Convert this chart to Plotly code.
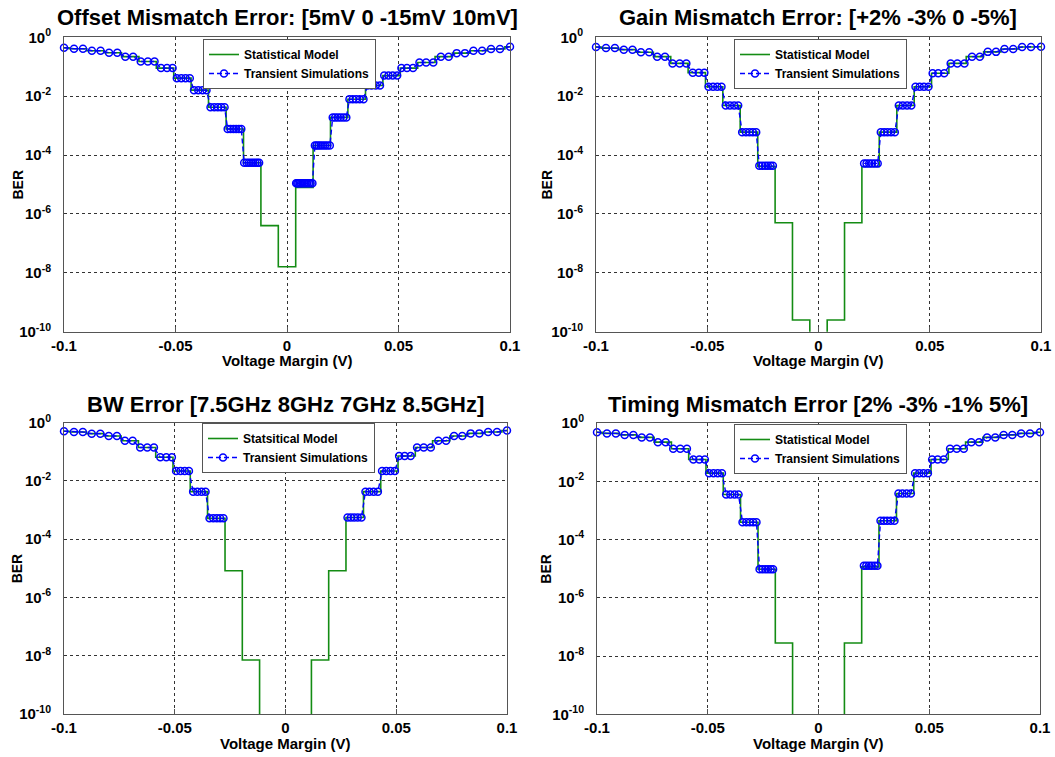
import plotly.graph_objects as go

# ---------------- data ----------------
# step boundaries of the statistical model (V)
bin_edges_v = [-0.1, -0.0977, -0.0898, -0.082, -0.0742, -0.0664, -0.0586, -0.0508,
               -0.043, -0.0352, -0.0273, -0.0195, -0.0117, -0.0039, 0.0039, 0.0117,
               0.0195, 0.0273, 0.0352, 0.043, 0.0508, 0.0586, 0.0664, 0.0742, 0.082,
               0.0898, 0.0977, 0.1]

sim_v_pos = [0.1, 0.0955, 0.0915, 0.0875, 0.0836, 0.0798, 0.0761, 0.0725, 0.069,
             0.0656, 0.0624, 0.0594, 0.0565, 0.0538, 0.0513, 0.0494, 0.0474, 0.0455,
             0.0436, 0.0417, 0.0398, 0.0379, 0.0361, 0.0343, 0.0326, 0.031, 0.0295,
             0.028, 0.0266, 0.0253, 0.024, 0.0228, 0.0216, 0.0205, 0.0192, 0.0181,
             0.0171, 0.0161, 0.0151, 0.0142, 0.0133, 0.0125, 0.0114, 0.0106, 0.0098,
             0.009, 0.0083, 0.0076, 0.0069, 0.0063, 0.0057, 0.0051, 0.0046, 0.0041]

titles = ["Offset Mismatch Error: [5mV 0 -15mV 10mV]",
          "Gain Mismatch Error: [+2% -3% 0 -5%]",
          "BW Error [7.5GHz 8GHz 7GHz 8.5GHz]",
          "Timing Mismatch Error [2% -3% -1% 5%]"]
model_names = ["Statistical Model", "Statistical Model", "Statsitical Model", "Statistical Model"]
sim_name = "Transient Simulations"

# BER of each step (27 steps, from -0.1 V to +0.1 V); 1e-14 = below plotted range
offset_model_ber = [4.4e-1, 4.1e-1, 3.5e-1, 3.0e-1, 2.2e-1, 1.5e-1, 9.0e-2, 4.1e-2, 1.6e-2,
                    4.2e-3, 7.7e-4, 5.5e-5, 4.0e-7, 1.6e-8, 8.0e-6, 2.1e-4, 1.9e-3, 7.9e-3,
                    2.3e-2, 5.0e-2, 9.0e-2, 1.4e-1, 2.2e-1, 2.9e-1, 3.5e-1, 4.0e-1, 4.8e-1]
offset_sim_ber = [4.4e-1, 4.1e-1, 3.5e-1, 3.0e-1, 2.2e-1, 1.5e-1, 9.0e-2, 4.1e-2, 1.6e-2,
                  4.2e-3, 7.7e-4, 5.5e-5, None, None, 1.1e-5, 2.1e-4, 1.9e-3, 7.9e-3,
                  2.3e-2, 5.0e-2, 9.0e-2, 1.4e-1, 2.2e-1, 2.9e-1, 3.5e-1, 4.0e-1, 4.8e-1]

gain_model_ber = [4.7e-1, 4.3e-1, 3.8e-1, 3.1e-1, 2.2e-1, 1.3e-1, 6.3e-2, 2.1e-2, 4.8e-3,
                  6.0e-4, 4.1e-5, 5.0e-7, 2.5e-10, 1e-14, 2.5e-10, 5.0e-7, 4.1e-5, 6.0e-4,
                  4.8e-3, 2.1e-2, 6.0e-2, 1.3e-1, 2.2e-1, 3.2e-1, 4.0e-1, 4.7e-1, 4.8e-1]
gain_sim_ber = [4.7e-1, 4.3e-1, 3.8e-1, 3.1e-1, 2.2e-1, 1.3e-1, 6.3e-2, 2.1e-2, 4.8e-3,
                6.0e-4, 4.3e-5, None, None, None, None, None, 5.2e-5, 6.0e-4,
                4.8e-3, 2.1e-2, 6.0e-2, 1.3e-1, 2.2e-1, 3.2e-1, 4.0e-1, 4.7e-1, 4.8e-1]

bw_model_ber = [5.1e-1, 4.8e-1, 4.2e-1, 3.5e-1, 2.4e-1, 1.4e-1, 6.5e-2, 2.2e-2, 4.3e-3,
                5.2e-4, 8.3e-6, 7.1e-9, 1e-14, 1e-14, 1e-14, 7.1e-9, 8.3e-6, 5.6e-4,
                4.3e-3, 2.2e-2, 7.2e-2, 1.4e-1, 2.4e-1, 3.5e-1, 4.3e-1, 4.8e-1, 5.4e-1]
bw_sim_ber = [5.1e-1, 4.8e-1, 4.2e-1, 3.5e-1, 2.4e-1, 1.4e-1, 6.5e-2, 2.2e-2, 4.3e-3,
              5.2e-4, None, None, None, None, None, None, None, 5.6e-4,
              4.3e-3, 2.2e-2, 7.2e-2, 1.4e-1, 2.4e-1, 3.5e-1, 4.3e-1, 4.8e-1, 5.4e-1]

timing_model_ber = [4.8e-1, 4.4e-1, 3.9e-1, 3.2e-1, 2.2e-1, 1.3e-1, 5.6e-2, 1.9e-2, 3.5e-3,
                    3.9e-4, 9.5e-6, 2.8e-8, 1e-14, 1e-14, 1e-14, 2.8e-8, 1.15e-5, 4.4e-4,
                    3.8e-3, 1.9e-2, 5.6e-2, 1.3e-1, 2.2e-1, 3.2e-1, 3.9e-1, 4.4e-1, 4.8e-1]
timing_sim_ber = [4.8e-1, 4.4e-1, 3.9e-1, 3.2e-1, 2.2e-1, 1.3e-1, 5.6e-2, 1.9e-2, 3.5e-3,
                  3.9e-4, 9.5e-6, None, None, None, None, None, 1.25e-5, 4.4e-4,
                  3.8e-3, 1.9e-2, 5.6e-2, 1.3e-1, 2.2e-1, 3.2e-1, 3.9e-1, 4.4e-1, 4.8e-1]

x_tickvals = [-0.1, -0.05, 0, 0.05, 0.1]
x_ticktext = ["-0.1", "-0.05", "0", "0.05", "0.1"]
y_tickvals = [1, 1e-2, 1e-4, 1e-6, 1e-8, 1e-10]
y_ticktext = ["10<sup>0</sup>", "10<sup>-2</sup>", "10<sup>-4</sup>", "10<sup>-6</sup>",
              "10<sup>-8</sup>", "10<sup>-10</sup>"]

# ---------------- layout geometry (pixels) ----------------
W, H = 1055, 757
FONT = "Liberation Sans, Arial, Helvetica, sans-serif"
panels = [
    dict(x0=64, x1=510, yt=37.3, yb=331.7, lx=203, ly=39, tx=287, ty=17, bx=17),
    dict(x0=596, x1=1041, yt=37.3, yb=331.7, lx=734, ly=39, tx=818, ty=17, bx=546),
    dict(x0=64, x1=507, yt=422.7, yb=714, lx=202, ly=423, tx=285, ty=405, bx=17),
    dict(x0=597, x1=1040, yt=423, yb=714.3, lx=734, ly=424, tx=818, ty=405, bx=546),
]
model_sets = [offset_model_ber, gain_model_ber, bw_model_ber, timing_model_ber]
sim_sets = [offset_sim_ber, gain_sim_ber, bw_sim_ber, timing_sim_ber]

sim_v = [-v for v in sim_v_pos] + sim_v_pos[::-1]


def step_index(v):
    for i in range(len(bin_edges_v) - 1):
        if bin_edges_v[i] <= v < bin_edges_v[i + 1]:
            return i
    return len(bin_edges_v) - 2


fig = go.Figure()
layout = dict(width=W, height=H, margin=dict(l=0, r=0, t=0, b=0, autoexpand=False),
              paper_bgcolor="white", plot_bgcolor="white", showlegend=True,
              font=dict(family=FONT, color="black"))
annotations = []

for p, (geo, model, sim) in enumerate(zip(panels, model_sets, sim_sets)):
    sfx = "" if p == 0 else str(p + 1)
    xa, ya = "x" + sfx, "y" + sfx
    lg = "legend" + sfx

    # statistical model: staircase
    fig.add_trace(go.Scatter(
        x=bin_edges_v, y=model + [model[-1]], mode="lines", line_shape="hv",
        line=dict(color="rgb(20,140,20)", width=1.6), name=model_names[p],
        xaxis=xa, yaxis=ya, legend=lg))

    # transient simulations (no points where the simulated BER is below the floor)
    sx, sy = [], []
    for v in sim_v:
        b = sim[step_index(v)]
        if b is not None:
            sx.append(v)
            sy.append(b)
        elif sx and sx[-1] is not None:
            sx.append(None)
            sy.append(None)
    fig.add_trace(go.Scatter(
        x=sx, y=sy, mode="lines+markers", cliponaxis=False, connectgaps=False,
        line=dict(color="rgb(0,0,255)", width=1.4, dash="5px,3px"),
        marker=dict(symbol="circle-open", size=7, color="rgb(0,0,255)", line=dict(width=1.5)),
        name=sim_name, xaxis=xa, yaxis=ya, legend=lg))

    xdom = [geo["x0"] / W, geo["x1"] / W]
    ydom = [1 - geo["yb"] / H, 1 - geo["yt"] / H]
    common = dict(showline=True, linecolor="#555", linewidth=1, mirror=True,
                  showgrid=True, gridcolor="#333", griddash="dot", gridwidth=1,
                  zeroline=False, automargin=False,
                  tickfont=dict(family=FONT, size=15, color="black", weight="bold"))
    layout["xaxis" + sfx] = dict(domain=xdom, anchor=ya, range=[-0.1, 0.1],
                                 ticks="inside", ticklen=5, tickcolor="#555",
                                 tickvals=x_tickvals, ticktext=x_ticktext, **common)
    layout["yaxis" + sfx] = dict(domain=ydom, anchor=xa, type="log", range=[-10, 0],
                                 ticks="outside", ticklen=9, tickcolor="rgba(0,0,0,0)",
                                 tickvals=y_tickvals, ticktext=y_ticktext, **common)
    layout[lg] = dict(x=geo["lx"] / W, y=1 - geo["ly"] / H, xanchor="left", yanchor="top",
                      bgcolor="white", bordercolor="#555", borderwidth=1,
                      font=dict(family=FONT, size=12, color="black", weight="bold"),
                      itemwidth=30, tracegroupgap=0)

    annotations.append(dict(text="<b>" + titles[p] + "</b>", x=geo["tx"] / W, y=1 - geo["ty"] / H,
                            xref="paper", yref="paper", showarrow=False,
                            font=dict(family=FONT, size=22, color="black"),
                            xanchor="center", yanchor="middle"))
    annotations.append(dict(text="<b>Voltage Margin (V)</b>", x=geo["tx"] / W,
                            y=1 - (geo["yb"] + 29) / H, xref="paper", yref="paper",
                            showarrow=False, font=dict(family=FONT, size=15, color="black"),
                            xanchor="center", yanchor="middle"))
    annotations.append(dict(text="<b>BER</b>", x=geo["bx"] / W,
                            y=1 - ((geo["yt"] + geo["yb"]) / 2) / H, xref="paper", yref="paper",
                            showarrow=False, textangle=-90,
                            font=dict(family=FONT, size=14, color="black"),
                            xanchor="center", yanchor="middle"))

layout["annotations"] = annotations
fig.update_layout(**layout)
fig.write_html("out.html")
